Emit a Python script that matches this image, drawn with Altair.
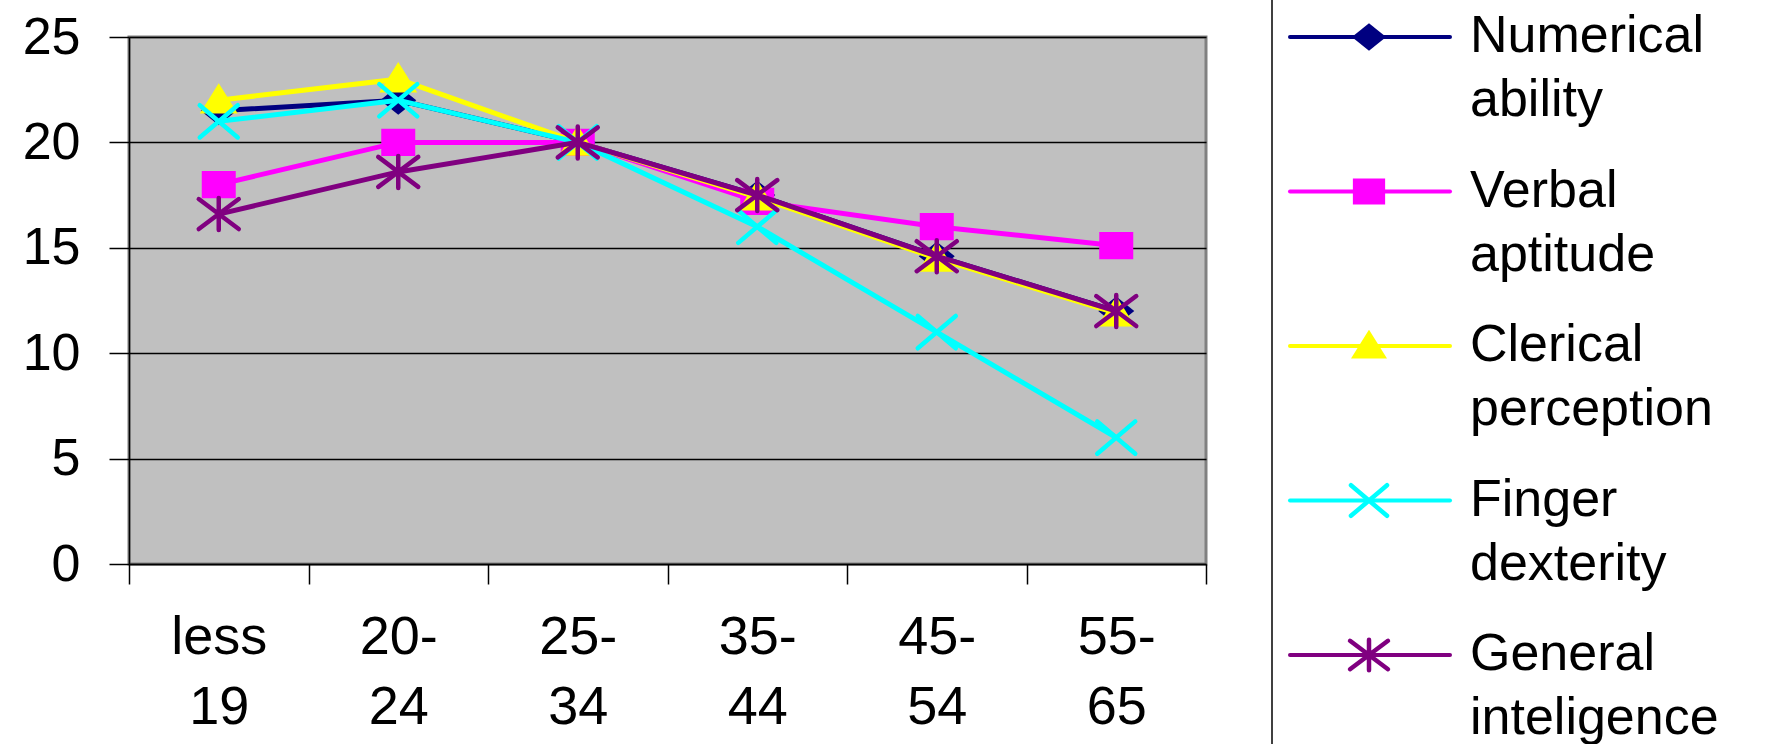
import altair as alt
import pandas as pd

# Age groups (two-line labels) and mean scores per aptitude
age_groups = ["less\n19", "20-\n24", "25-\n34", "35-\n44", "45-\n54", "55-\n65"]
numerical_ability = [21.5, 22.0, 20.0, 17.5, 14.6, 12.0]
verbal_aptitude = [18.0, 20.0, 20.0, 17.2, 16.0, 15.1]
clerical_perception = [22.0, 23.0, 20.0, 17.4, 14.5, 11.9]
finger_dexterity = [21.0, 22.0, 20.0, 16.0, 11.0, 6.0]
general_inteligence = [16.6, 18.6, 20.0, 17.5, 14.6, 12.0]

series_names = ["Numerical ability", "Verbal aptitude", "Clerical perception",
                "Finger dexterity", "General inteligence"]
series_values = [numerical_ability, verbal_aptitude, clerical_perception,
                 finger_dexterity, general_inteligence]
series_colors = ["#000080", "#FF00FF", "#FFFF00", "#00FFFF", "#800080"]
y_ticks = [0, 5, 10, 15, 20, 25]

FONT = "Liberation Sans"
PLOT_W, PLOT_H = 1077, 527

# marker styles: (svg path, size, filled)
markers = [
    ("M-1,0L0,-0.8L1,0L0,0.8Z", 1300, True),                      # diamond
    ("M-1,-0.8L1,-0.8L1,0.8L-1,0.8Z", 1156, True),                # square
    ("M0,-0.9L1,0.7L-1,0.7Z", 1444, True),                        # triangle
    ("M-1,-0.85L1,0.85M-1,0.85L1,-0.85", 1444, False),            # x
    ("M0,-0.8L0,0.8M-1,-0.75L1,0.75M-1,0.75L1,-0.75", 1600, False),  # asterisk
]


def point_props(i, size_scale=1.0):
    path, size, filled = markers[i]
    props = dict(shape=path, size=size * size_scale, color=series_colors[i], opacity=1)
    if filled:
        props.update(filled=True)
    else:
        props.update(filled=False, strokeWidth=4.5, strokeCap="round")
    return props


x_enc = alt.X(
    "age:N", sort=age_groups,
    scale=alt.Scale(type="band", domain=age_groups, paddingInner=0, paddingOuter=0),
    axis=alt.Axis(title=None, labelExpr="split(datum.label, '\\n')", labelFont=FONT,
                  labelFontSize=54, labelLineHeight=70, labelColor="black",
                  labelAngle=0, tickBand="extent", tickSize=20, tickColor="black",
                  tickWidth=1.5, domainColor="black", domainWidth=1.5,
                  labelPadding=26, grid=False),
)
y_enc = alt.Y(
    "score:Q",
    scale=alt.Scale(domain=[0, 25], nice=False, zero=True),
    axis=alt.Axis(title=None, values=y_ticks, labelFont=FONT, labelFontSize=52,
                  labelColor="black", tickSize=20, tickColor="black", tickWidth=1.5,
                  domainColor="black", domainWidth=1.5, labelPadding=29,
                  grid=True, gridColor="black", gridWidth=1.3),
)

main_layers = []
for i, (name, vals) in enumerate(zip(series_names, series_values)):
    df = pd.DataFrame({"age": age_groups, "score": vals, "series": name})
    base = alt.Chart(df).encode(x=x_enc, y=y_enc)
    main_layers.append(base.mark_line(color=series_colors[i], strokeWidth=5))
    main_layers.append(base.mark_point(**point_props(i)))

plot = alt.layer(*main_layers)

# legend drawn beside the plot: line + marker + two-line label per series
legend_df = pd.DataFrame({"series": series_names})
legend_y = alt.Y("series:N", sort=series_names,
                 scale=alt.Scale(type="point", domain=series_names, range=[0, 618], padding=0),
                 axis=None)
legend_color = alt.Color("series:N", scale=alt.Scale(domain=series_names, range=series_colors),
                         legend=None)

legend_layers = [
    alt.Chart(alt.Data(values=[{}])).mark_rule(color="black", strokeWidth=1.5).encode(
        x=alt.value(1143), y=alt.value(-37), y2=alt.value(707)),
    alt.Chart(legend_df).mark_rule(strokeWidth=4, strokeCap="round").encode(
        y=legend_y, x=alt.value(1161), x2=alt.value(1321), color=legend_color),
]
for i, name in enumerate(series_names):
    legend_layers.append(
        alt.Chart(legend_df[legend_df["series"] == name])
        .mark_point(**point_props(i, 0.9))
        .encode(y=legend_y, x=alt.value(1240))
    )
legend_layers.append(
    alt.Chart(legend_df).mark_text(align="left", baseline="alphabetic", dy=15, fontSize=52,
                                   font=FONT, lineBreak=" ", lineHeight=64, color="black")
    .encode(y=legend_y, x=alt.value(1341), text="series:N")
)
legend = alt.layer(*legend_layers)

chart = (
    alt.layer(plot, legend)
    .resolve_scale(x="independent", y="independent", color="independent")
    .properties(width=PLOT_W, height=PLOT_H,
                autosize=alt.AutoSizeParams(type="none"),
                padding={"left": 129, "top": 37, "right": 564, "bottom": 180},
                background="white")
    .configure_view(fill="#C0C0C0", stroke="#808080", strokeWidth=3)
)

chart.save("out.html", embed_options={"renderer": "svg", "actions": False})
